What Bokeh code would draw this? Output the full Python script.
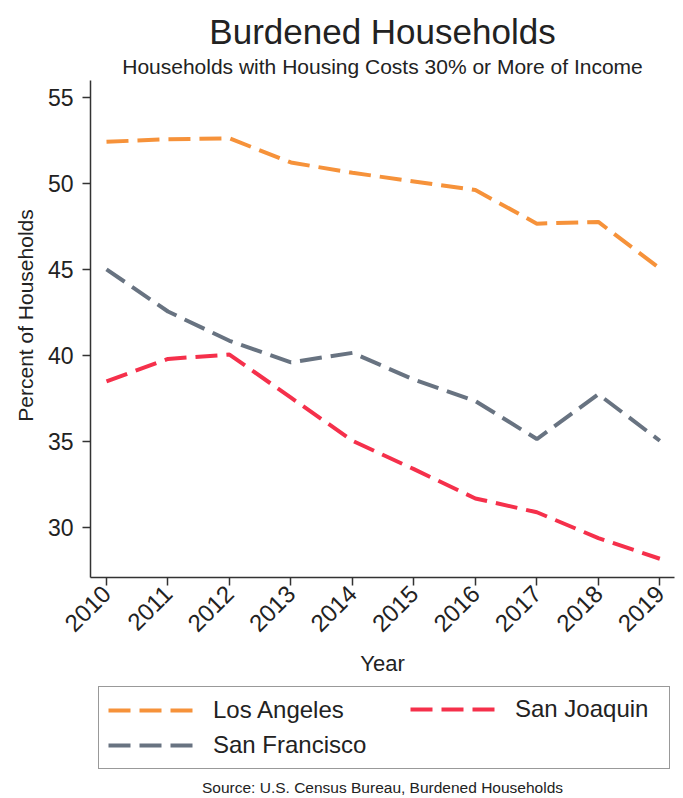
import math
from bokeh.plotting import figure
from bokeh.models import (Legend, LegendItem, FixedTicker, Range1d, Label)
from bokeh.embed import file_html
from bokeh.resources import INLINE

# ---- data ----
years = [2010, 2011, 2012, 2013, 2014, 2015, 2016, 2017, 2018, 2019]
los_angeles = [52.4, 52.55, 52.6, 51.2, 50.6, 50.1, 49.6, 47.65, 47.75, 45.05]
san_francisco = [45.0, 42.55, 40.85, 39.6, 40.15, 38.6, 37.35, 35.15, 37.75, 35.05]
san_joaquin = [38.5, 39.8, 40.05, 37.55, 35.05, 33.4, 31.7, 30.9, 29.4, 28.2]
y_ticks = [30, 35, 40, 45, 50, 55]

title_text = "Burdened Households"
subtitle_text = "Households with Housing Costs 30% or More of Income"
y_label_text = "Percent of Households"
source_text = "Source: U.S. Census Bureau, Burdened Households"

FONT = "Liberation Sans"
TXT = "#222222"
AX = "#333333"
C_LA = "#F6923A"
C_SF = "#687381"
C_SJ = "#F5304B"
DASH = "22 9"

# ---- layout: the frame covers the whole canvas; axes drawn at fixed spots ----
W, H = 683, 798
PX_YEAR, PX_UNIT = 61.48, 17.23
x_start = 2010 - 106 / PX_YEAR
x_end = x_start + W / PX_YEAR
y_end = 55 + 96.5 / PX_UNIT
y_start = y_end - H / PX_UNIT


def xd(px):
    return x_start + px / PX_YEAR


def yd(py):
    return y_end - py / PX_UNIT


p = figure(width=W, height=H, output_backend="svg", toolbar_location=None,
           x_range=Range1d(x_start, x_end), y_range=Range1d(y_start, y_end),
           min_border_left=0, min_border_right=0, min_border_top=0,
           min_border_bottom=0, title=None)
p.outline_line_color = None
p.background_fill_color = "white"
p.border_fill_color = "white"
p.xgrid.grid_line_color = None
p.ygrid.grid_line_color = None

r_la = p.line(years, los_angeles, line_color=C_LA, line_width=4, line_dash=DASH)
r_sf = p.line(years, san_francisco, line_color=C_SF, line_width=4, line_dash=DASH)
r_sj = p.line(years, san_joaquin, line_color=C_SJ, line_width=4, line_dash=DASH)

for ax in (p.xaxis[0], p.yaxis[0]):
    ax.axis_line_color = AX
    ax.axis_line_width = 1.5
    ax.major_tick_line_color = AX
    ax.major_tick_line_width = 1.5
    ax.major_tick_in = 0
    ax.major_tick_out = 8
    ax.minor_tick_line_color = None
    ax.major_label_text_font = FONT
    ax.major_label_text_color = TXT
    ax.axis_label_text_font = FONT
    ax.axis_label_text_color = TXT
    ax.axis_label_text_font_style = "normal"

xa = p.xaxis[0]
xa.fixed_location = yd(577)
xa.bounds = (xd(90), xd(674))
xa.ticker = FixedTicker(ticks=years)
xa.major_label_orientation = math.pi / 4
xa.major_label_text_font_size = "24px"
xa.axis_label = "Year"
xa.axis_label_text_font_size = "22px"
xa.major_label_standoff = 4
xa.axis_label_standoff = 9

ya = p.yaxis[0]
ya.fixed_location = xd(90)
ya.bounds = (yd(577), yd(80))
ya.ticker = FixedTicker(ticks=y_ticks)
ya.major_label_text_font_size = "23px"
ya.major_label_standoff = 9


def screen_label(x, y_from_top, text, size, angle=0.0):
    return Label(x=x, y=H - y_from_top, x_units="screen", y_units="screen",
                 text=text, angle=angle, text_align="center", text_baseline="middle",
                 text_font=FONT, text_font_size=size, text_color=TXT)


# titles, y label, source (positions are vertical centres, from the top)
p.add_layout(screen_label(382, 30.5, title_text, "35px"))
p.add_layout(screen_label(382, 65.5, subtitle_text, "21px"))
p.add_layout(screen_label(25, 315, y_label_text, "21px", angle=math.pi / 2))
p.add_layout(screen_label(382, 787, source_text, "15.5px"))

# legend: bordered box with two columns (second column as borderless legend)
common = dict(glyph_width=90, glyph_height=28, label_height=28, label_standoff=15,
              padding=9, spacing=7, margin=0, label_text_font=FONT,
              label_text_font_size="24px", label_text_color=TXT)
leg1 = Legend(items=[LegendItem(label="Los Angeles", renderers=[r_la]),
                     LegendItem(label="San Francisco", renderers=[r_sf])],
              location=(98, H - 769), orientation="vertical", label_width=447,
              border_line_color=AX, border_line_width=1.5,
              background_fill_color="white", background_fill_alpha=1.0, **common)
leg2 = Legend(items=[LegendItem(label="San Joaquin", renderers=[r_sj])],
              location=(410, H - 769 + 46), orientation="vertical",
              border_line_color=None, background_fill_alpha=0.0, **common)
p.add_layout(leg1, "center")
p.add_layout(leg2, "center")

open("out.html", "w").write(file_html(p, INLINE))
